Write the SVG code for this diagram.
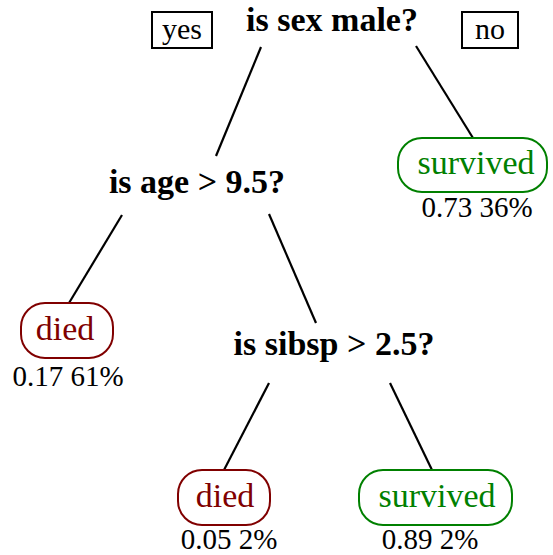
<svg xmlns="http://www.w3.org/2000/svg" width="553" height="555" viewBox="0 0 553 555">
<style>
text{font-family:"Liberation Serif","Times New Roman",serif;text-anchor:middle}
.q{font-weight:bold;font-size:34px;fill:#000}
.lbl{font-size:30px;fill:#000}
.leaf{font-size:34px}
.pct{font-size:29px;fill:#000}
.died rect{fill:#fff;stroke:#800000;stroke-width:2}
.died text.leaf{fill:#800000}
.surv rect{fill:#fff;stroke:#008000;stroke-width:2}
.surv text.leaf{fill:#008000}
.box{fill:#fff;stroke:#000;stroke-width:2}
.edges line{stroke:#000;stroke-width:2.2}
</style>
<rect width="553" height="555" fill="#fff"/>
<g id="edges" class="edges">
<line x1="261" y1="47" x2="216" y2="156"/>
<line x1="416" y1="46" x2="473" y2="138"/>
<line x1="122" y1="215" x2="69" y2="303"/>
<line x1="269" y1="214" x2="316" y2="323"/>
<line x1="269" y1="383" x2="224" y2="470"/>
<line x1="390" y1="383" x2="432" y2="470"/>
</g>
<g id="yes"><rect class="box" x="152" y="12" width="60" height="36"/><text class="lbl" x="182" y="39">yes</text></g>
<g id="no"><rect class="box" x="462" y="12" width="56" height="36"/><text class="lbl" x="490" y="39">no</text></g>
<g id="n1"><text class="q" x="332" y="31">is sex male?</text></g>
<g id="n2"><text class="q" x="197" y="193">is age &gt; 9.5?</text></g>
<g id="n3"><text class="q" x="334" y="355">is sibsp &gt; 2.5?</text></g>
<g id="leaf1" class="surv"><rect x="398" y="138" width="149" height="54" rx="24"/><text class="leaf" x="476" y="174">survived</text><text class="pct" x="477" y="217">0.73 36%</text></g>
<g id="leaf2" class="died"><rect x="21" y="303" width="92" height="55" rx="24"/><text class="leaf" x="65" y="340">died</text><text class="pct" x="68" y="386">0.17 61%</text></g>
<g id="leaf3" class="died"><rect x="178" y="470" width="92" height="55" rx="24"/><text class="leaf" x="225" y="507">died</text><text class="pct" x="229" y="549">0.05 2%</text></g>
<g id="leaf4" class="surv"><rect x="359" y="470" width="153" height="55" rx="24"/><text class="leaf" x="437" y="507">survived</text><text class="pct" x="430" y="549">0.89 2%</text></g>
</svg>
